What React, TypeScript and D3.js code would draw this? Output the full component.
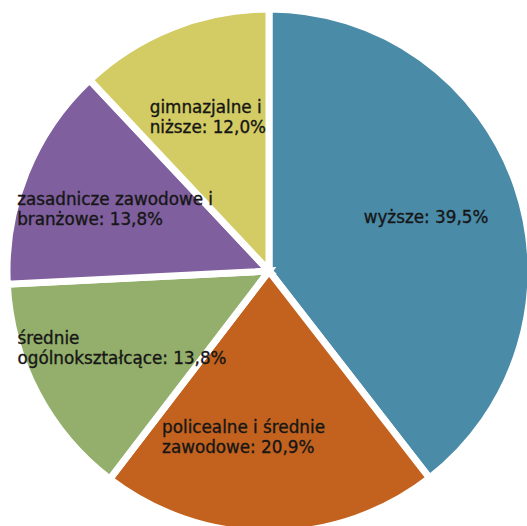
import React, { useEffect, useRef } from "react";
import * as d3 from "d3";

const categories = [
  "wyższe",
  "policealne i średnie\nzawodowe",
  "średnie\nogólnokształcące",
  "zasadnicze zawodowe i\nbranżowe",
  "gimnazjalne i\nniższe",
];
const values = [39.5, 20.9, 13.8, 13.8, 12.0];
const colors = ["#4A8BA8", "#C3621E", "#93AF6B", "#7F5F9D", "#D3CB63"];

const W = 527;
const H = 526;
const CX = 269;
const CY = 271;
const R = 262;
const LABEL_R = 166;
const labelNudge = [0, -26, 0, 0, 0];

export default function App() {
  const ref = useRef<SVGSVGElement>(null);

  useEffect(() => {
    const svg = d3.select(ref.current);
    svg.selectAll("*").remove();
    const g = svg.append("g").attr("transform", `translate(${CX},${CY})`);
    const data = values.map((v, i) => ({ v, i }));
    const pie = d3.pie<any>().sort(null).value((d: any) => d.v);
    const arcs = pie(data);
    const arc = d3.arc<any>().innerRadius(0).outerRadius(R);
    const labelArc = d3.arc<any>().innerRadius(LABEL_R).outerRadius(LABEL_R);

    g.selectAll("path.slice")
      .data(arcs)
      .enter()
      .append("path")
      .attr("class", "slice")
      .attr("d", arc as any)
      .attr("fill", (d: any) => colors[d.data.i])
      .attr("stroke", "#fff")
      .attr("stroke-width", 7)
      .attr("stroke-linejoin", "miter");

    arcs.forEach((a: any) => {
      const i = a.data.i;
      const [lx, ly] = labelArc.centroid(a);
      const lines = categories[i].split("\n");
      lines[lines.length - 1] += ": " + d3.format(".1f")(values[i]).replace(".", ",") + "%";
      const t = g
        .append("text")
        .attr("font-family", "DejaVu Sans, Verdana, sans-serif")
        .attr("font-size", 16.8)
        .attr("fill", "#161616")
        .attr("stroke", "#161616")
        .attr("stroke-width", 0.35);
      lines.forEach((ln, k) => {
        t.append("tspan").attr("x", 0).attr("y", k * 20).text(ln);
      });
      const bb = (t.node() as SVGTextElement).getBBox();
      const tx = lx + labelNudge[i] - (bb.x + bb.width / 2);
      const ty = ly - (bb.y + bb.height / 2);
      t.attr("transform", `translate(${tx},${ty})`);
    });
  }, []);

  return (
    <svg
      ref={ref}
      width={W}
      height={H}
      style={{ position: "absolute", left: 0, top: 0, background: "#fff" }}
    />
  );
}
